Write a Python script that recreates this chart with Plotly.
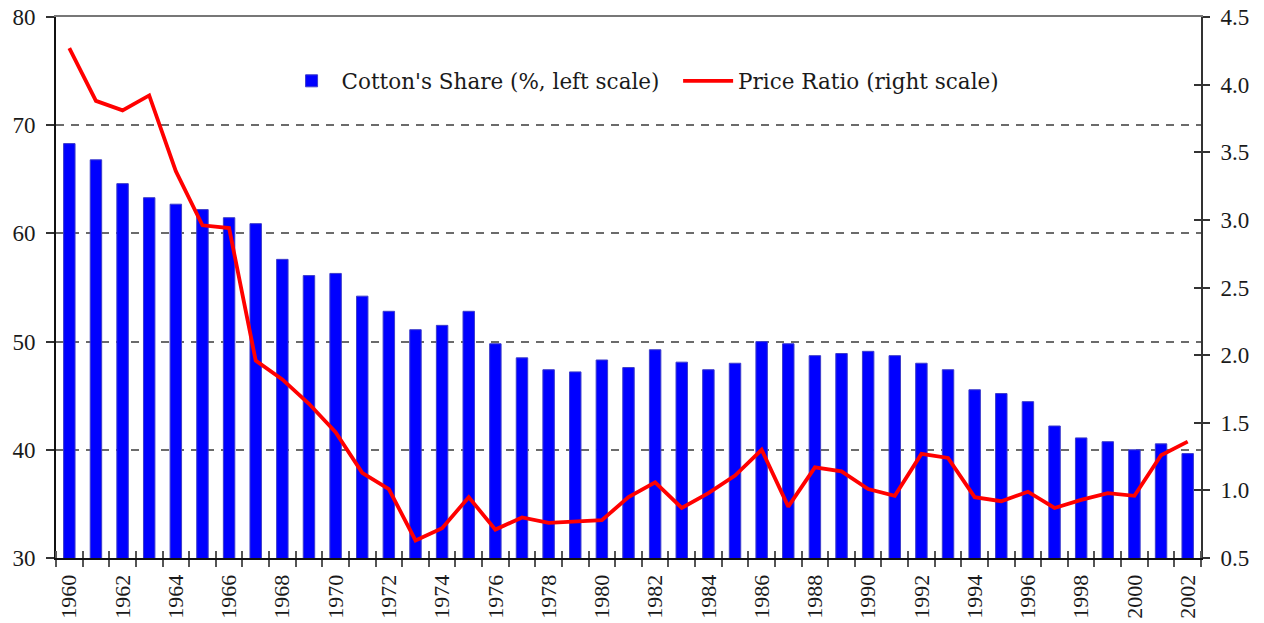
import plotly.graph_objects as go

years = list(range(1960, 2003))
cotton_share = [68.3, 66.8, 64.6, 63.3, 62.7, 62.2, 61.45, 60.9, 57.6, 56.1,
                56.3, 54.2, 52.8, 51.1, 51.5, 52.8, 49.8, 48.5, 47.4, 47.2,
                48.3, 47.6, 49.25, 48.1, 47.4, 48.0, 50.0, 49.8, 48.7, 48.9,
                49.1, 48.7, 48.0, 47.4, 45.55, 45.2, 44.45, 42.2, 41.1, 40.75,
                40.0, 40.55, 39.65]
price_ratio = [4.27, 3.88, 3.81, 3.92, 3.36, 2.96, 2.94, 1.96, 1.82, 1.64,
               1.43, 1.13, 1.01, 0.63, 0.72, 0.95, 0.71, 0.80, 0.76, 0.77,
               0.78, 0.95, 1.06, 0.87, 0.98, 1.11, 1.30, 0.88, 1.17, 1.14,
               1.01, 0.96, 1.27, 1.24, 0.95, 0.92, 0.99, 0.87, 0.93, 0.98,
               0.96, 1.26, 1.36]
left_ticks = [30, 40, 50, 60, 70, 80]
right_ticks = [0.5, 1.0, 1.5, 2.0, 2.5, 3.0, 3.5, 4.0, 4.5]
right_ticktext = ["0.5", "1.0", "1.5", "2.0", "2.5", "3.0", "3.5", "4.0", "4.5"]
x_label_years = list(range(1960, 2003, 2))

FONT = "Liberation Serif"
LFONT = "DejaVu Serif"
NB = "\u00a0"
fig = go.Figure()
fig.add_trace(go.Bar(
    x=years, y=cotton_share, name="Cotton's Share (%, left scale)" + NB * 2,
    marker=dict(color="#0000FF", line=dict(color="#3d3dcc", width=1)),
    width=0.43, yaxis="y", xaxis="x"))
fig.add_trace(go.Scatter(
    x=years, y=price_ratio, name="Price Ratio (right scale)",
    mode="lines", line=dict(color="#FF0000", width=3.8),
    yaxis="y2", xaxis="x"))

xr = [1959.5, 2002.5]
fig.update_layout(
    width=1264, height=623,
    margin=dict(l=56, r=63, t=17, b=65, autoexpand=False),
    plot_bgcolor="white", paper_bgcolor="white",
    font=dict(family=FONT, size=22, color="#1a1a1a"),
    showlegend=True,
    legend=dict(orientation="h", x=0.197, y=0.882, xanchor="left", yanchor="middle",
                bgcolor="rgba(0,0,0,0)", font=dict(family=LFONT, size=21.5, color="#1a1a1a"),
                itemwidth=50, tracegroupgap=0),
    xaxis=dict(range=xr, tickvals=x_label_years, ticktext=[str(y) for y in x_label_years],
               tickangle=-90, ticks="", showgrid=False, zeroline=False, automargin=False,
               showline=True, linecolor="#111", linewidth=2, ticklabelstandoff=6,
               tickfont=dict(family=FONT, size=22),
               minor=dict(tick0=1959.5, dtick=1, ticks="outside", ticklen=7,
                          tickcolor="#555", tickwidth=1.5, showgrid=False)),
    xaxis3=dict(range=xr, overlaying="x", anchor="y", showticklabels=False, automargin=False,
                ticks="", showgrid=False, zeroline=False, showline=False,
                tickvals=[],
                minor=dict(tick0=1959.5, dtick=1, ticks="inside", ticklen=7,
                           tickcolor="#555", tickwidth=1.5, showgrid=False)),
    xaxis4=dict(range=xr, overlaying="x", side="top", anchor="y", showticklabels=False,
                ticks="", showgrid=False, zeroline=False, showline=True, automargin=False,
                linecolor="#777", linewidth=1.5, tickvals=[]),
    yaxis=dict(range=[30, 80], tickvals=left_ticks, ticks="outside", ticklen=8,
               tickcolor="#333", tickwidth=1.5, automargin=False, ticklabelstandoff=6,
               showline=True, linecolor="#111", linewidth=2,
               showgrid=True, gridcolor="#6b6b6b", gridwidth=1.6, griddash="8px,7px",
               zeroline=False, tickfont=dict(family=FONT, size=23)),
    yaxis2=dict(range=[0.5, 4.5], tickvals=right_ticks, ticktext=right_ticktext,
                overlaying="y", side="right", anchor="x", automargin=False,
                ticks="outside", ticklen=7, tickcolor="#333", tickwidth=1.5,
                ticklabelstandoff=6,
                showline=True, linecolor="#333", linewidth=2,
                showgrid=False, zeroline=False, tickfont=dict(family=FONT, size=23)),
    yaxis3=dict(range=[0.5, 4.5], tickvals=right_ticks, overlaying="y", side="right",
                anchor="x", showticklabels=False, ticks="inside", ticklen=7, automargin=False,
                tickcolor="#333", tickwidth=1.5, showline=False, showgrid=False,
                zeroline=False),
)
# invisible traces to activate overlay axes
fig.add_trace(go.Scatter(x=[years[0]], y=[price_ratio[0]], xaxis="x3", yaxis="y3",
                         mode="markers", marker=dict(opacity=0), showlegend=False,
                         hoverinfo="skip"))
fig.add_trace(go.Scatter(x=[years[0]], y=[cotton_share[0]], xaxis="x4", yaxis="y",
                         mode="markers", marker=dict(opacity=0), showlegend=False,
                         hoverinfo="skip"))
fig.write_html("out.html", config={"displayModeBar": False},
               post_script="document.body.style.margin='0px';document.body.style.overflow='hidden';")
